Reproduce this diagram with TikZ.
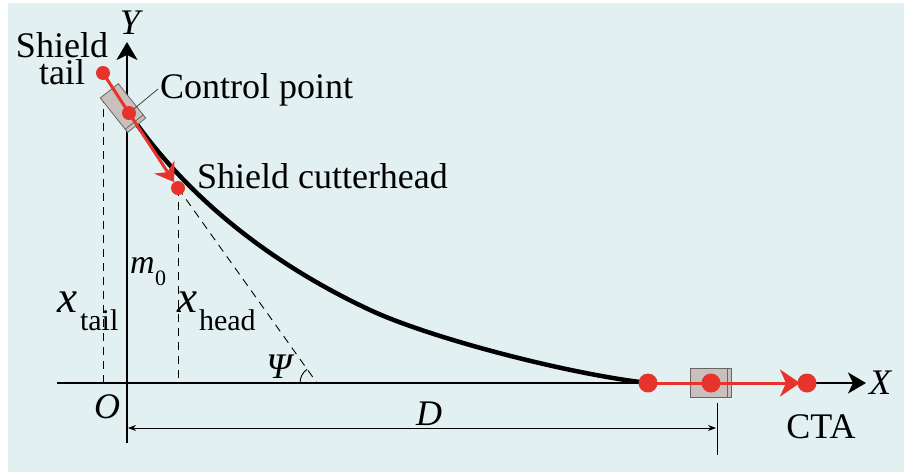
\documentclass[tikz,border=0pt]{standalone}
\usepackage{fontspec}
\setmainfont{Liberation Serif}
\usetikzlibrary{arrows.meta,calc}
\definecolor{bgblue}{RGB}{226,240,242}
\definecolor{dotred}{RGB}{230,52,45}
\definecolor{boxgray}{RGB}{201,192,189}
\begin{document}
\begin{tikzpicture}[x=1pt,y=-1pt,
  every node/.style={inner sep=0pt,outer sep=0pt},
  lbl/.style={font=\fontsize{36}{40}\selectfont},
  ilbl/.style={font=\fontsize{36}{40}\selectfont\itshape},
  bigx/.style={font=\fontsize{45}{48}\selectfont\itshape},
  sublbl/.style={font=\fontsize{30}{32}\selectfont},
  dot/.style={circle,fill=dotred,minimum size=14pt},
  bigdot/.style={circle,fill=dotred,minimum size=19pt},
  shieldbox/.style={rectangle,draw=black!60,fill=boxgray,line width=0.8pt},
  axisline/.style={line width=2.4pt,-{Stealth[length=18pt,width=21pt,inset=5pt]}},
  redpath/.style={draw=dotred,line width=3pt},
  guide/.style={line width=0.9pt,dash pattern=on 8pt off 6pt},
  dimline/.style={line width=0.8pt},
  leader/.style={line width=0.8pt,draw=black!75}
]
\useasboundingbox (0,0) rectangle (904,472);
\fill[white] (0,0) rectangle (904,472);
\fill[bgblue] (8,3) rectangle (904,472);

% key coordinates
\coordinate (O) at (127,383);
\coordinate (xstart) at (57,383);
\coordinate (xend) at (866,383);
\coordinate (ybot) at (127,443);
\coordinate (ytop) at (127,42);
\coordinate (tailc) at (103,73);
\coordinate (cpc) at (129,113);
\coordinate (headc) at (178,188);
\coordinate (midc) at (370,310);
\coordinate (b1c) at (648,383);
\coordinate (b2c) at (711,383);
\coordinate (ctac) at (807,383);
\coordinate (psi) at (317,383);
\coordinate (cpl) at (158,89);
\coordinate (dL) at (128,428);
\coordinate (dR) at (716,428);
\coordinate (tickT) at (717,403);
\coordinate (tickB) at (717,455);

% dashed guides
\draw[guide] ([yshift=-22pt]tailc) -- (tailc |- O);
\draw[guide] (headc) -- (headc |- O);
\draw[guide] (headc) -- (psi);
\draw[line width=0.9pt] ([xshift=-17pt]psi) arc[start angle=180,end angle=234,radius=17];

% axes
\draw[axisline] (xstart) -- (xend);
\draw[axisline] (ybot) -- (ytop);

% trajectory curve
\draw[line width=4.5pt] (cpc) .. controls (191,204) and (280,268) .. (midc)
  .. controls (430,338) and (568,374) .. (b1c);

% shield bodies
\node[shieldbox,rotate=-51.5,minimum width=44pt,minimum height=23pt] (topbox) at (123,108) {};
\draw[line width=0.8pt,draw=black!60] ($(topbox.north east)!4pt!(topbox.north west)$) -- ($(topbox.south east)!4pt!(topbox.south west)$);
\node[shieldbox,minimum width=41pt,minimum height=29pt] (botbox) at (710.5,382.5) {};
\draw[line width=0.8pt,draw=black!60] ($(botbox.north east)!4pt!(botbox.north west)$) -- ($(botbox.south east)!4pt!(botbox.south west)$);

% red paths
\draw[redpath,-{Stealth[length=18pt,width=24pt,inset=6pt]},shorten >=7pt] (tailc) -- (cpc) -- (headc);
\draw[redpath,-{Stealth[length=20pt,width=27pt,inset=6pt]},shorten >=7pt] (b1c) -- (b2c) -- (ctac);

% leader for control point
\draw[leader] (cpc) -- (cpl);

% dots
\node[dot] (tail) at (tailc) {};
\node[dot] (cp) at (cpc) {};
\node[dot] (head) at (headc) {};
\node[bigdot] (b1) at (b1c) {};
\node[bigdot] (b2) at (b2c) {};
\node[bigdot] (cta) at (ctac) {};

% dimension D
\draw[dimline,{Stealth[length=8pt,width=6pt]}-{Stealth[length=8pt,width=6pt]}] (dL) -- (dR);
\draw[dimline] (tickT) -- (tickB);

% labels
\node[align=center,font=\fontsize{36}{27}\selectfont,anchor=north] (lshield) at (62,33) {Shield\\tail};
\node[lbl,anchor=base west] (lcp) at (160,98) {Control point};
\node[lbl,anchor=base west] (lhead) at (197,188) {Shield cutterhead};
\node[ilbl] (lY) at (130,23) {Y};
\node[ilbl] (lX) at (880,383) {X};
\node[ilbl] (lO) at (107,407) {O};
\node[ilbl] (lD) at (429,414) {D};
\node[ilbl] (lpsi) at (279,367) {Ψ};
\node[lbl,anchor=base] (lcta) at (821,438) {CTA};
\node[bigx,anchor=base] (xt) at (67,312) {x};
\node[sublbl,anchor=base west] (xtsub) at (80,330) {tail};
\node[bigx,anchor=base] (xh) at (187.5,312) {x};
\node[sublbl,anchor=base west] (xhsub) at (199,330) {head};
\node[font=\fontsize{34}{36}\selectfont\itshape,anchor=base] (m) at (142.5,273) {m};
\node[font=\fontsize{22}{24}\selectfont,anchor=base west] (msub) at (155,285) {0};
\end{tikzpicture}
\end{document}
